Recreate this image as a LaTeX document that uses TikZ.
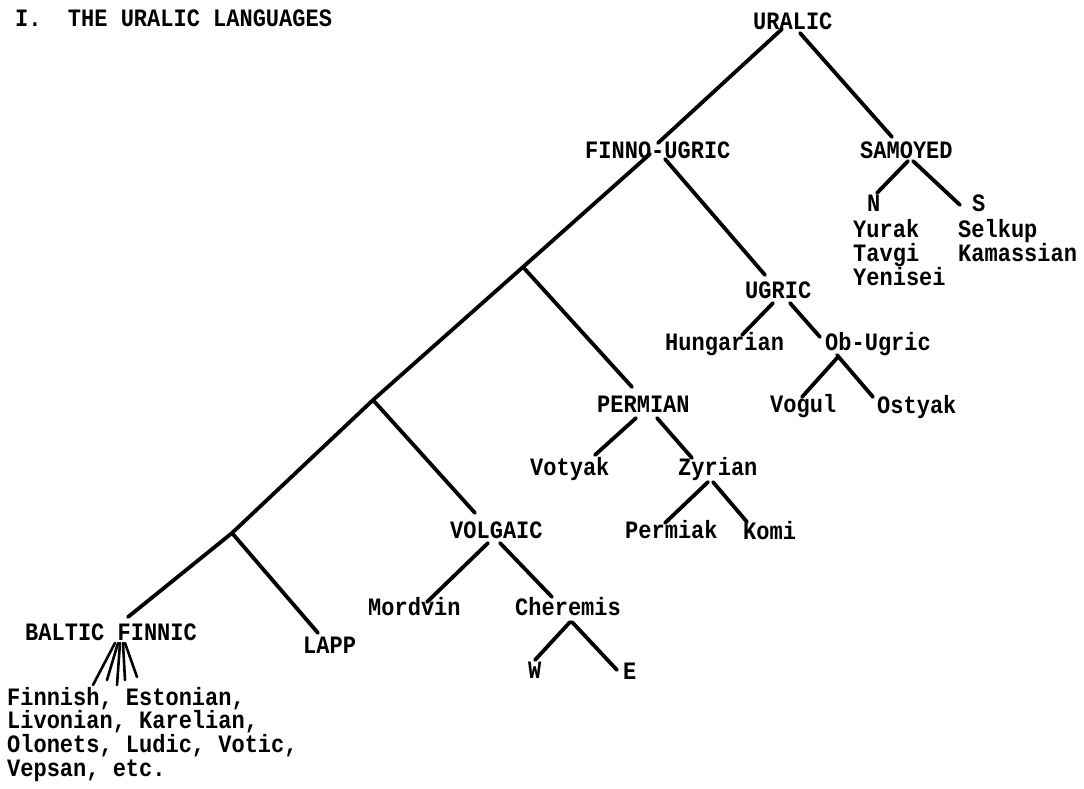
\documentclass[tikz,border=0pt]{standalone}
\usepackage{fontspec}
\newfontfamily\tw[FakeStretch=0.88]{Liberation Mono}
\tikzset{
  lbl/.style={anchor=base west, inner sep=0pt, font=\tw\bfseries\fontsize{25}{24}\selectfont},
  br/.style={line width=3.8pt, line cap=round, line join=round},
  fan/.style={line width=2.6pt, line cap=round}
}
\begin{document}
\begin{tikzpicture}[x=1pt,y=-1pt]
\useasboundingbox (0,0) rectangle (1084,788);
% labels
\node[lbl] (title) at (15,26) {I.\ \ THE URALIC LANGUAGES};
\node[lbl] (uralic) at (753,29) {URALIC};
\node[lbl] (fu) at (585,158) {FINNO-UGRIC};
\node[lbl] (sam) at (860,158) {SAMOYED};
\node[lbl] (n) at (867,211) {N};
\node[lbl] (s) at (972,211) {S};
\node[lbl] (yurak) at (853,237) {Yurak};
\node[lbl] (tavgi) at (853,261) {Tavgi};
\node[lbl] (yenisei) at (853,285) {Yenisei};
\node[lbl] (selkup) at (958,237) {Selkup};
\node[lbl] (kamassian) at (958,261) {Kamassian};
\node[lbl] (ugric) at (745,298) {UGRIC};
\node[lbl] (hung) at (665,350) {Hungarian};
\node[lbl] (ob) at (825,350) {Ob-Ugric};
\node[lbl] (vogul) at (770,412) {Vogul};
\node[lbl] (ostyak) at (877,413) {Ostyak};
\node[lbl] (permian) at (597,412) {PERMIAN};
\node[lbl] (votyak) at (530,475) {Votyak};
\node[lbl] (zyrian) at (678,475) {Zyrian};
\node[lbl] (permiak) at (625,538) {Permiak};
\node[lbl] (komi) at (743,539) {Komi};
\node[lbl] (volgaic) at (450,538) {VOLGAIC};
\node[lbl] (mordvin) at (368,615) {Mordvin};
\node[lbl] (cheremis) at (515,615) {Cheremis};
\node[lbl] (w) at (528,678) {W};
\node[lbl] (e) at (623,679) {E};
\node[lbl] (lapp) at (303,653) {LAPP};
\node[lbl] (bf) at (25,640) {BALTIC FINNIC};
\node[lbl] (fin1) at (7,705) {Finnish, Estonian,};
\node[lbl] (fin2) at (7,728.7) {Livonian, Karelian,};
\node[lbl] (fin3) at (7,752.4) {Olonets, Ludic, Votic,};
\node[lbl] (fin4) at (7,776.1) {Vepsan, etc.};
% junctions on the Finno-Ugric trunk
\coordinate (j1) at (523,267);
\coordinate (j2) at (373,400);
\coordinate (j3) at (232,533);
% connectors
\draw[br] ([shift={(29,0)}]uralic.base west) -- ([shift={(73,-15)}]fu.base west);
\draw[br] ([shift={(47,4)}]uralic.base west) -- ([shift={(32,-21)}]sam.base west);
\draw[br] ([shift={(80,1)}]fu.base west) -- ([shift={(20,-23)}]ugric.base west);
\draw[br] ([shift={(65,-4)}]fu.base west) -- (j1) -- (j2) -- (j3) -- ([shift={(103,-23)}]bf.base west);
\draw[br] (j1) -- ([shift={(35,-25)}]permian.base west);
\draw[br] (j2) -- ([shift={(25,-25)}]volgaic.base west);
\draw[br] (j3) -- ([shift={(15,-20)}]lapp.base west);
\draw[br] ([shift={(48,3)}]sam.base west) -- ([shift={(10,-18)}]n.base west);
\draw[br] ([shift={(53,3)}]sam.base west) -- ([shift={(-12,-6)}]s.base west);
\draw[br] ([shift={(28,5)}]ugric.base west) -- ([shift={(77,-15)}]hung.base west);
\draw[br] ([shift={(45,5)}]ugric.base west) -- ([shift={(-5,-13)}]ob.base west);
\draw[br] ([shift={(12,8)}]ob.base west) -- ([shift={(32,-15)}]vogul.base west);
\draw[br] ([shift={(12,5)}]ob.base west) -- ([shift={(-4,-16)}]ostyak.base west);
\draw[br] ([shift={(39,6)}]permian.base west) -- ([shift={(65,-20)}]votyak.base west);
\draw[br] ([shift={(60,6)}]permian.base west) -- ([shift={(14,-17)}]zyrian.base west);
\draw[br] ([shift={(30,7)}]zyrian.base west) -- ([shift={(40,-15)}]permiak.base west);
\draw[br] ([shift={(35,7)}]zyrian.base west) -- ([shift={(4,-17)}]komi.base west);
\draw[br] ([shift={(38,5)}]volgaic.base west) -- ([shift={(59,-13)}]mordvin.base west);
\draw[br] ([shift={(50,5)}]volgaic.base west) -- ([shift={(37,-18)}]cheremis.base west);
\draw[br] ([shift={(55,7)}]cheremis.base west) -- ([shift={(7,-18)}]w.base west);
\draw[br] ([shift={(57,7)}]cheremis.base west) -- ([shift={(-6,-9)}]e.base west);
% Baltic Finnic fan
\draw[fan] ([shift={(90,3)}]bf.base west) -- ([shift={(86,-20)}]fin1.base west);
\draw[fan] ([shift={(93,3)}]bf.base west) -- ([shift={(100,-25)}]fin1.base west);
\draw[fan] ([shift={(95,3)}]bf.base west) -- ([shift={(110,-20)}]fin1.base west);
\draw[fan] ([shift={(98,3)}]bf.base west) -- ([shift={(118,-25)}]fin1.base west);
\draw[fan] ([shift={(100,3)}]bf.base west) -- ([shift={(130,-28)}]fin1.base west);
\end{tikzpicture}
\end{document}
